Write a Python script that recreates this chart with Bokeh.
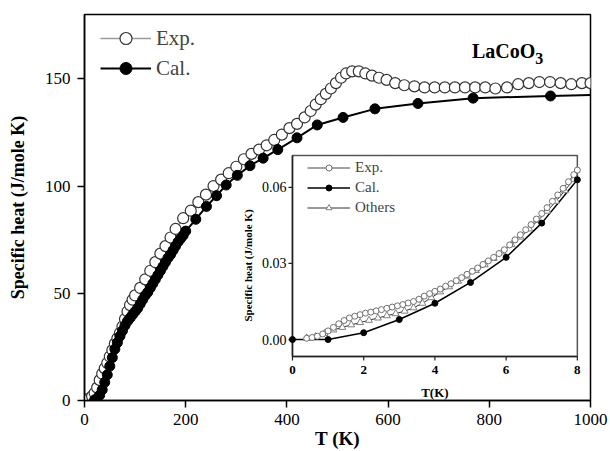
import math
from bokeh.plotting import figure
from bokeh.models import Range1d, FixedTicker, Legend, LegendItem
from bokeh.core.properties import value
from bokeh.embed import file_html
from bokeh.resources import INLINE

# ---------------- data: main panel ----------------
exp_T = [6, 10, 15, 20, 25, 30, 35, 40, 45, 50, 55, 60, 65, 70, 75, 80, 85, 90, 95, 100,
         110, 120, 130, 140, 150, 160, 170, 180, 195, 210, 225, 240, 255, 270, 285, 300,
         315, 330, 345, 360, 375, 390, 405, 420, 435, 447, 457, 467, 477, 487, 497, 507, 517,
         529, 542, 555, 568, 582, 597, 614, 632, 652, 672, 692, 712, 732, 752, 772, 792, 812,
         835, 857, 878, 899, 920, 941, 962, 983, 1000]
exp_C = [0.5, 1, 2, 3.5, 6, 9.5, 12.5, 15, 17.5, 20.5, 23.5, 26.5, 29, 31.5, 34.5, 38, 41.5, 44.5, 47, 49,
         52.5, 56.5, 60.5, 64.5, 68.5, 72, 76, 80, 85, 88.5, 92.5, 96, 100, 103, 106, 109,
         112.5, 115, 117, 119, 121.5, 124, 127, 129, 132, 135, 138, 140.5, 143, 145.5, 148, 150.5, 152.5,
         153.5, 153.5, 152.5, 151.5, 150.5, 149.5, 148, 147, 146.5, 146, 146, 146, 146, 146, 146, 146, 145.5,
         146, 147.5, 148, 148.5, 148.5, 148, 147.5, 148, 148]

cal_T = [20, 25, 30, 35, 40, 45, 50, 55, 60, 65, 70, 75, 80, 85, 90, 95, 100, 105, 110, 115,
         120, 125, 130, 135, 140, 145, 150, 155, 160, 165, 170, 175, 180, 185, 190, 195, 200,
         220, 241, 261, 280, 302, 327, 353, 382, 420, 460, 511, 574, 659, 768, 921]
cal_C = [0.3, 1, 2.5, 5, 8.5, 12, 16, 20, 24, 27, 30, 32.5, 35, 37, 38.5, 40, 41.5, 43, 45, 47,
         49, 50.5, 52.5, 54.5, 56.5, 58.5, 60.5, 62.5, 64.5, 66.5, 68, 70, 72, 74, 75.5, 77, 79,
         84.5, 90.5, 95.5, 100.5, 105, 109.5, 113, 117, 122.5, 128.5, 132, 136, 138.5, 141, 142]
cal_end_T = 1000
cal_end_C = 142.5

x_ticks = [0, 200, 400, 600, 800, 1000]
y_ticks = [0, 50, 100, 150]

# ---------------- data: inset ----------------
in_exp_T = [0.4, 0.55, 0.7, 0.85, 1.0, 1.15, 1.3, 1.45, 1.6, 1.75, 1.9, 2.05, 2.2, 2.35, 2.5, 2.65,
            2.8, 2.95, 3.1, 3.25, 3.4, 3.55, 3.7, 3.85, 4.0, 4.15, 4.3, 4.45, 4.6, 4.75, 4.9, 5.05,
            5.2, 5.35, 5.5, 5.65, 5.8, 5.95, 6.1, 6.25, 6.4, 6.55, 6.7, 6.85, 7.0, 7.15, 7.3, 7.45,
            7.6, 7.75, 7.9, 8.0]
in_exp_C = [0.0005, 0.0008, 0.0013, 0.0022, 0.0034, 0.0048, 0.0062, 0.0075, 0.0085, 0.0092,
            0.0098, 0.0104, 0.0108, 0.0113, 0.0118, 0.0123, 0.0128, 0.0133, 0.0138, 0.0144,
            0.0150, 0.0159, 0.0171, 0.0181, 0.0190, 0.0199, 0.0210, 0.0220, 0.0232, 0.0244,
            0.0257, 0.0269, 0.0282, 0.0296, 0.0310, 0.0324, 0.0339, 0.0354, 0.0373, 0.0393,
            0.0413, 0.0433, 0.0453, 0.0475, 0.0497, 0.0520, 0.0545, 0.0570, 0.0596, 0.0622,
            0.0650, 0.0668]

in_cal_T = [0, 1, 2, 3, 4, 5, 6, 7, 8]
in_cal_C = [0.0, 0.0, 0.0027, 0.0079, 0.0143, 0.0225, 0.0324, 0.0459, 0.0630]

in_oth_T = [0.4, 0.65, 0.9, 1.15, 1.4, 1.65, 1.9, 2.15, 2.4, 2.65, 2.9, 3.15, 3.4, 3.65, 3.9, 4.15,
            4.4, 4.65, 4.9, 5.15, 5.4, 5.65, 5.9, 6.15, 6.4, 6.65, 6.9, 7.15, 7.4, 7.65, 7.9]
in_oth_C = [0.0006, 0.0012, 0.0024, 0.0038, 0.0048, 0.0058, 0.0067, 0.0076, 0.0085, 0.0094,
            0.0102, 0.0112, 0.0125, 0.0143, 0.0165, 0.0188, 0.0208, 0.0230, 0.0250, 0.0272,
            0.0295, 0.0320, 0.0346, 0.0374, 0.0404, 0.0436, 0.0470, 0.0506, 0.0545, 0.0587, 0.0632]

in_x_ticks = [0, 2, 4, 6, 8]
in_x_labels = ["0", "2", "4", "6", "8"]
in_y_ticks = [0.0, 0.03, 0.06]
in_y_labels = ["0.00", "0.03", "0.06"]

SERIF = "Liberation Serif"

# ---------------- main figure ----------------
X0, X1, Y0, Y1 = 0, 1000, 0, 180
p = figure(width=610, height=451, x_range=Range1d(X0, X1), y_range=Range1d(Y0, Y1),
           output_backend="svg", toolbar_location=None,
           min_border_left=84, min_border_right=20, min_border_top=14, min_border_bottom=51)
p.background_fill_color = "white"
p.border_fill_color = "white"
p.outline_line_color = "black"
p.outline_line_width = 1.5
p.xgrid.visible = False
p.ygrid.visible = False

p.xaxis.ticker = FixedTicker(ticks=x_ticks)
p.yaxis.ticker = FixedTicker(ticks=y_ticks)
for ax in (p.xaxis[0], p.yaxis[0]):
    ax.major_tick_in = 0
    ax.major_tick_out = 7
    ax.minor_tick_in = 0
    ax.minor_tick_out = 0
    ax.axis_line_width = 1.5
    ax.axis_line_color = "black"
    ax.major_tick_line_width = 1.5
    ax.major_tick_line_color = "black"
    ax.major_label_text_font = SERIF
    ax.major_label_text_font_size = "17px"
    ax.major_label_text_color = "black"
    ax.axis_label_text_font = SERIF
    ax.axis_label_text_font_style = "bold"
    ax.axis_label_text_color = "black"

p.xaxis.axis_label = "T (K)"
p.xaxis.axis_label_text_font_size = "19px"
p.xaxis.major_label_standoff = 6
p.xaxis.axis_label_standoff = 0
p.yaxis.axis_label = "Specific heat (J/mole K)"
p.yaxis.axis_label_text_font_size = "18px"
p.yaxis.major_label_standoff = 7
p.yaxis.axis_label_standoff = 14

# main series
r_exp_line = p.line(exp_T, exp_C, line_color="#9a9a9a", line_width=1.5)
r_exp = p.scatter(exp_T, exp_C, marker="circle", size=11, fill_color="white",
                  line_color="#333333", line_width=1.2)
r_cal_line = p.line(cal_T + [cal_end_T], cal_C + [cal_end_C], line_color="black", line_width=2)
r_cal = p.scatter(cal_T, cal_C, marker="circle", size=10, fill_color="black", line_color="black")

# legend location tuple = bottom-left corner, measured from the frame's bottom-left
main_legend = Legend(items=[LegendItem(label="Exp.", renderers=[r_exp_line, r_exp]),
                            LegendItem(label="Cal.", renderers=[r_cal_line, r_cal])],
                     location=(16, 317), padding=0, spacing=-5, margin=0,
                     glyph_width=51, glyph_height=30, label_height=30, label_standoff=5,
                     label_text_font=SERIF, label_text_font_size="21px",
                     border_line_color=None, background_fill_alpha=0)
p.add_layout(main_legend, "center")

# compound name with subscript
p.text(x=[891], y=[163.2], text=["LaCoO"], text_font=value(SERIF), text_font_style="bold",
       text_font_size="20px", text_align="right", text_baseline="alphabetic", text_color="black")
p.text(x=[891], y=[159.5], text=["3"], text_font=value(SERIF), text_font_style="bold",
       text_font_size="16px", text_align="left", text_baseline="alphabetic", text_color="black")

# ---------------- inset (drawn in the same canvas through extra ranges) ----------------
box_l, box_r, box_b, box_t = 411, 974, 20.5, 114.3      # inset frame in main units
ix0, ix1 = 0.0, 8.0
iy0, iy1 = -0.0067, 0.0726
sx = (box_r - box_l) / (ix1 - ix0)
sy = (box_t - box_b) / (iy1 - iy0)
p.extra_x_ranges = {"ix": Range1d(ix0 - (box_l - X0) / sx, ix1 + (X1 - box_r) / sx)}
p.extra_y_ranges = {"iy": Range1d(iy0 - (box_b - Y0) / sy, iy1 + (Y1 - box_t) / sy)}
IR = dict(x_range_name="ix", y_range_name="iy")

p.quad(left=[ix0], right=[ix1], bottom=[iy0], top=[iy1], fill_color="white",
       line_color="#555555", line_width=1.5, **IR)
# darker left / bottom inset axis lines
p.segment(x0=[ix0, ix0], y0=[iy0, iy0], x1=[ix0, ix1], y1=[iy1, iy0],
          line_color="#222222", line_width=1.5, **IR)

# inset ticks
p.ray(x=in_x_ticks, y=[iy0] * len(in_x_ticks), length=4, length_units="screen",
      angle=-math.pi / 2, line_color="#222222", line_width=1.2, **IR)
p.ray(x=[ix0] * len(in_y_ticks), y=in_y_ticks, length=4, length_units="screen",
      angle=math.pi, line_color="#222222", line_width=1.2, **IR)
p.text(x=in_x_ticks, y=[-0.0122] * len(in_x_ticks), text=in_x_labels, text_font=value(SERIF),
       text_font_style="bold", text_font_size="13px", text_align="center",
       text_baseline="middle", text_color="black", **IR)
p.text(x=[-0.17] * len(in_y_ticks), y=in_y_ticks, text=in_y_labels, text_font=value(SERIF),
       text_font_size="14px", text_align="right", text_baseline="middle",
       text_color="black", **IR)
p.text(x=[4.0], y=[-0.0209], text=["T(K)"], text_font=value(SERIF), text_font_style="bold",
       text_font_size="13px", text_align="center", text_baseline="middle", text_color="black", **IR)
p.text(x=[-1.24], y=[0.0292], text=["Specific heat (J/mole K)"], text_font=value(SERIF),
       text_font_style="bold", text_font_size="11px", text_align="center",
       text_baseline="middle", angle=math.pi / 2, text_color="black", **IR)

# inset series
r_ie_line = p.line(in_exp_T, in_exp_C, line_color="#444444", line_width=1, **IR)
r_io_line = p.line(in_oth_T, in_oth_C, line_color="#333333", line_width=1, **IR)
r_ic_line = p.line(in_cal_T, in_cal_C, line_color="black", line_width=1.5, **IR)
r_io = p.scatter(in_oth_T, in_oth_C, marker="triangle", size=7, fill_color="white",
                 line_color="#808080", line_width=1, **IR)
r_ie = p.scatter(in_exp_T, in_exp_C, marker="circle", size=6, fill_color="white",
                 line_color="#707070", line_width=1, **IR)
r_ic = p.scatter(in_cal_T, in_cal_C, marker="circle", size=6, fill_color="black",
                 line_color="black", **IR)

inset_legend = Legend(items=[LegendItem(label="Exp.", renderers=[r_ie_line, r_ie]),
                             LegendItem(label="Cal.", renderers=[r_ic_line, r_ic]),
                             LegendItem(label="Others", renderers=[r_io_line, r_io])],
                      location=(223, 184), padding=0, spacing=3, margin=0,
                      glyph_width=43, glyph_height=15, label_height=15, label_standoff=5,
                      label_text_font=SERIF, label_text_font_size="15px",
                      border_line_color=None, background_fill_alpha=0)
p.add_layout(inset_legend, "center")

open("out.html", "w").write(file_html(p, INLINE))
